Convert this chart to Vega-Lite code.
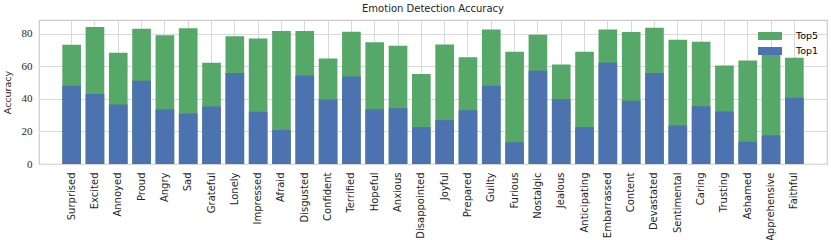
{
  "$schema": "https://vega.github.io/schema/vega-lite/v6.json",
  "width": 788,
  "height": 144,
  "autosize": "none",
  "padding": {"left": 39, "top": 20, "right": 4, "bottom": 76},
  "background": "white",
  "title": {"text": "Emotion Detection Accuracy", "font": "DejaVu Sans", "fontSize": 10, "fontWeight": "normal", "color": "#262626", "offset": 6},
  "config": {
    "view": {"stroke": "#cccccc", "strokeWidth": 1.2},
    "axis": {"domain": false, "ticks": false, "gridColor": "#d9d9d9", "gridWidth": 1, "labelColor": "#262626", "titleColor": "#262626"}
  },
  "data": {"values": [
    {"emotion": "Surprised", "series": "Top5", "value": 73.2},
    {"emotion": "Excited", "series": "Top5", "value": 84.1},
    {"emotion": "Annoyed", "series": "Top5", "value": 68.3},
    {"emotion": "Proud", "series": "Top5", "value": 83.1},
    {"emotion": "Angry", "series": "Top5", "value": 79.0},
    {"emotion": "Sad", "series": "Top5", "value": 83.3},
    {"emotion": "Grateful", "series": "Top5", "value": 62.2},
    {"emotion": "Lonely", "series": "Top5", "value": 78.4},
    {"emotion": "Impressed", "series": "Top5", "value": 77.1},
    {"emotion": "Afraid", "series": "Top5", "value": 81.6},
    {"emotion": "Disgusted", "series": "Top5", "value": 81.6},
    {"emotion": "Confident", "series": "Top5", "value": 64.8},
    {"emotion": "Terrified", "series": "Top5", "value": 81.2},
    {"emotion": "Hopeful", "series": "Top5", "value": 74.7},
    {"emotion": "Anxious", "series": "Top5", "value": 72.6},
    {"emotion": "Disappointed", "series": "Top5", "value": 55.2},
    {"emotion": "Joyful", "series": "Top5", "value": 73.4},
    {"emotion": "Prepared", "series": "Top5", "value": 65.6},
    {"emotion": "Guilty", "series": "Top5", "value": 82.5},
    {"emotion": "Furious", "series": "Top5", "value": 68.9},
    {"emotion": "Nostalgic", "series": "Top5", "value": 79.4},
    {"emotion": "Jealous", "series": "Top5", "value": 61.1},
    {"emotion": "Anticipating", "series": "Top5", "value": 68.9},
    {"emotion": "Embarrassed", "series": "Top5", "value": 82.5},
    {"emotion": "Content", "series": "Top5", "value": 81.0},
    {"emotion": "Devastated", "series": "Top5", "value": 83.7},
    {"emotion": "Sentimental", "series": "Top5", "value": 76.3},
    {"emotion": "Caring", "series": "Top5", "value": 75.1},
    {"emotion": "Trusting", "series": "Top5", "value": 60.5},
    {"emotion": "Ashamed", "series": "Top5", "value": 63.6},
    {"emotion": "Apprehensive", "series": "Top5", "value": 69.9},
    {"emotion": "Faithful", "series": "Top5", "value": 65.2},
    {"emotion": "Surprised", "series": "Top1", "value": 48.0},
    {"emotion": "Excited", "series": "Top1", "value": 42.9},
    {"emotion": "Annoyed", "series": "Top1", "value": 36.5},
    {"emotion": "Proud", "series": "Top1", "value": 51.1},
    {"emotion": "Angry", "series": "Top1", "value": 33.4},
    {"emotion": "Sad", "series": "Top1", "value": 31.0},
    {"emotion": "Grateful", "series": "Top1", "value": 35.3},
    {"emotion": "Lonely", "series": "Top1", "value": 55.8},
    {"emotion": "Impressed", "series": "Top1", "value": 32.0},
    {"emotion": "Afraid", "series": "Top1", "value": 20.9},
    {"emotion": "Disgusted", "series": "Top1", "value": 54.4},
    {"emotion": "Confident", "series": "Top1", "value": 39.6},
    {"emotion": "Terrified", "series": "Top1", "value": 53.7},
    {"emotion": "Hopeful", "series": "Top1", "value": 33.6},
    {"emotion": "Anxious", "series": "Top1", "value": 34.3},
    {"emotion": "Disappointed", "series": "Top1", "value": 22.6},
    {"emotion": "Joyful", "series": "Top1", "value": 26.9},
    {"emotion": "Prepared", "series": "Top1", "value": 33.0},
    {"emotion": "Guilty", "series": "Top1", "value": 48.0},
    {"emotion": "Furious", "series": "Top1", "value": 13.3},
    {"emotion": "Nostalgic", "series": "Top1", "value": 57.2},
    {"emotion": "Jealous", "series": "Top1", "value": 39.8},
    {"emotion": "Anticipating", "series": "Top1", "value": 22.6},
    {"emotion": "Embarrassed", "series": "Top1", "value": 62.2},
    {"emotion": "Content", "series": "Top1", "value": 38.8},
    {"emotion": "Devastated", "series": "Top1", "value": 55.8},
    {"emotion": "Sentimental", "series": "Top1", "value": 23.6},
    {"emotion": "Caring", "series": "Top1", "value": 35.5},
    {"emotion": "Trusting", "series": "Top1", "value": 32.2},
    {"emotion": "Ashamed", "series": "Top1", "value": 13.7},
    {"emotion": "Apprehensive", "series": "Top1", "value": 17.6},
    {"emotion": "Faithful", "series": "Top1", "value": 40.6}
  ]},
  "mark": {"type": "bar"},
  "encoding": {
    "x": {
      "field": "emotion", "type": "nominal", "sort": null,
      "scale": {"paddingInner": 0.2, "paddingOuter": 1.6},
      "axis": {"title": null, "labelAngle": -90, "labelFont": "DejaVu Sans", "labelFontSize": 10, "labelPadding": 8, "grid": true, "bandPosition": 0.5}
    },
    "y": {
      "field": "value", "type": "quantitative", "stack": null,
      "scale": {"domain": [0, 88.4], "nice": false},
      "axis": {"title": "Accuracy", "values": [0, 20, 40, 60, 80], "labelFont": "Liberation Serif", "labelFontSize": 11, "labelPadding": 7, "titleFont": "DejaVu Sans", "titleFontSize": 9.5, "titleFontWeight": "normal", "titlePadding": 9}
    },
    "color": {
      "field": "series", "type": "nominal",
      "scale": {"domain": ["Top5", "Top1"], "range": ["#55A868", "#4C72B0"]},
      "legend": {"title": null, "orient": "top-right", "offset": 3, "padding": 5, "labelFont": "DejaVu Sans", "labelFontSize": 9.5, "labelOffset": 18, "symbolType": "M-1.5,-0.5H1.5V0.5H-1.5Z", "symbolSize": 256, "symbolStrokeWidth": 0, "rowPadding": 2}
    }
  }
}
